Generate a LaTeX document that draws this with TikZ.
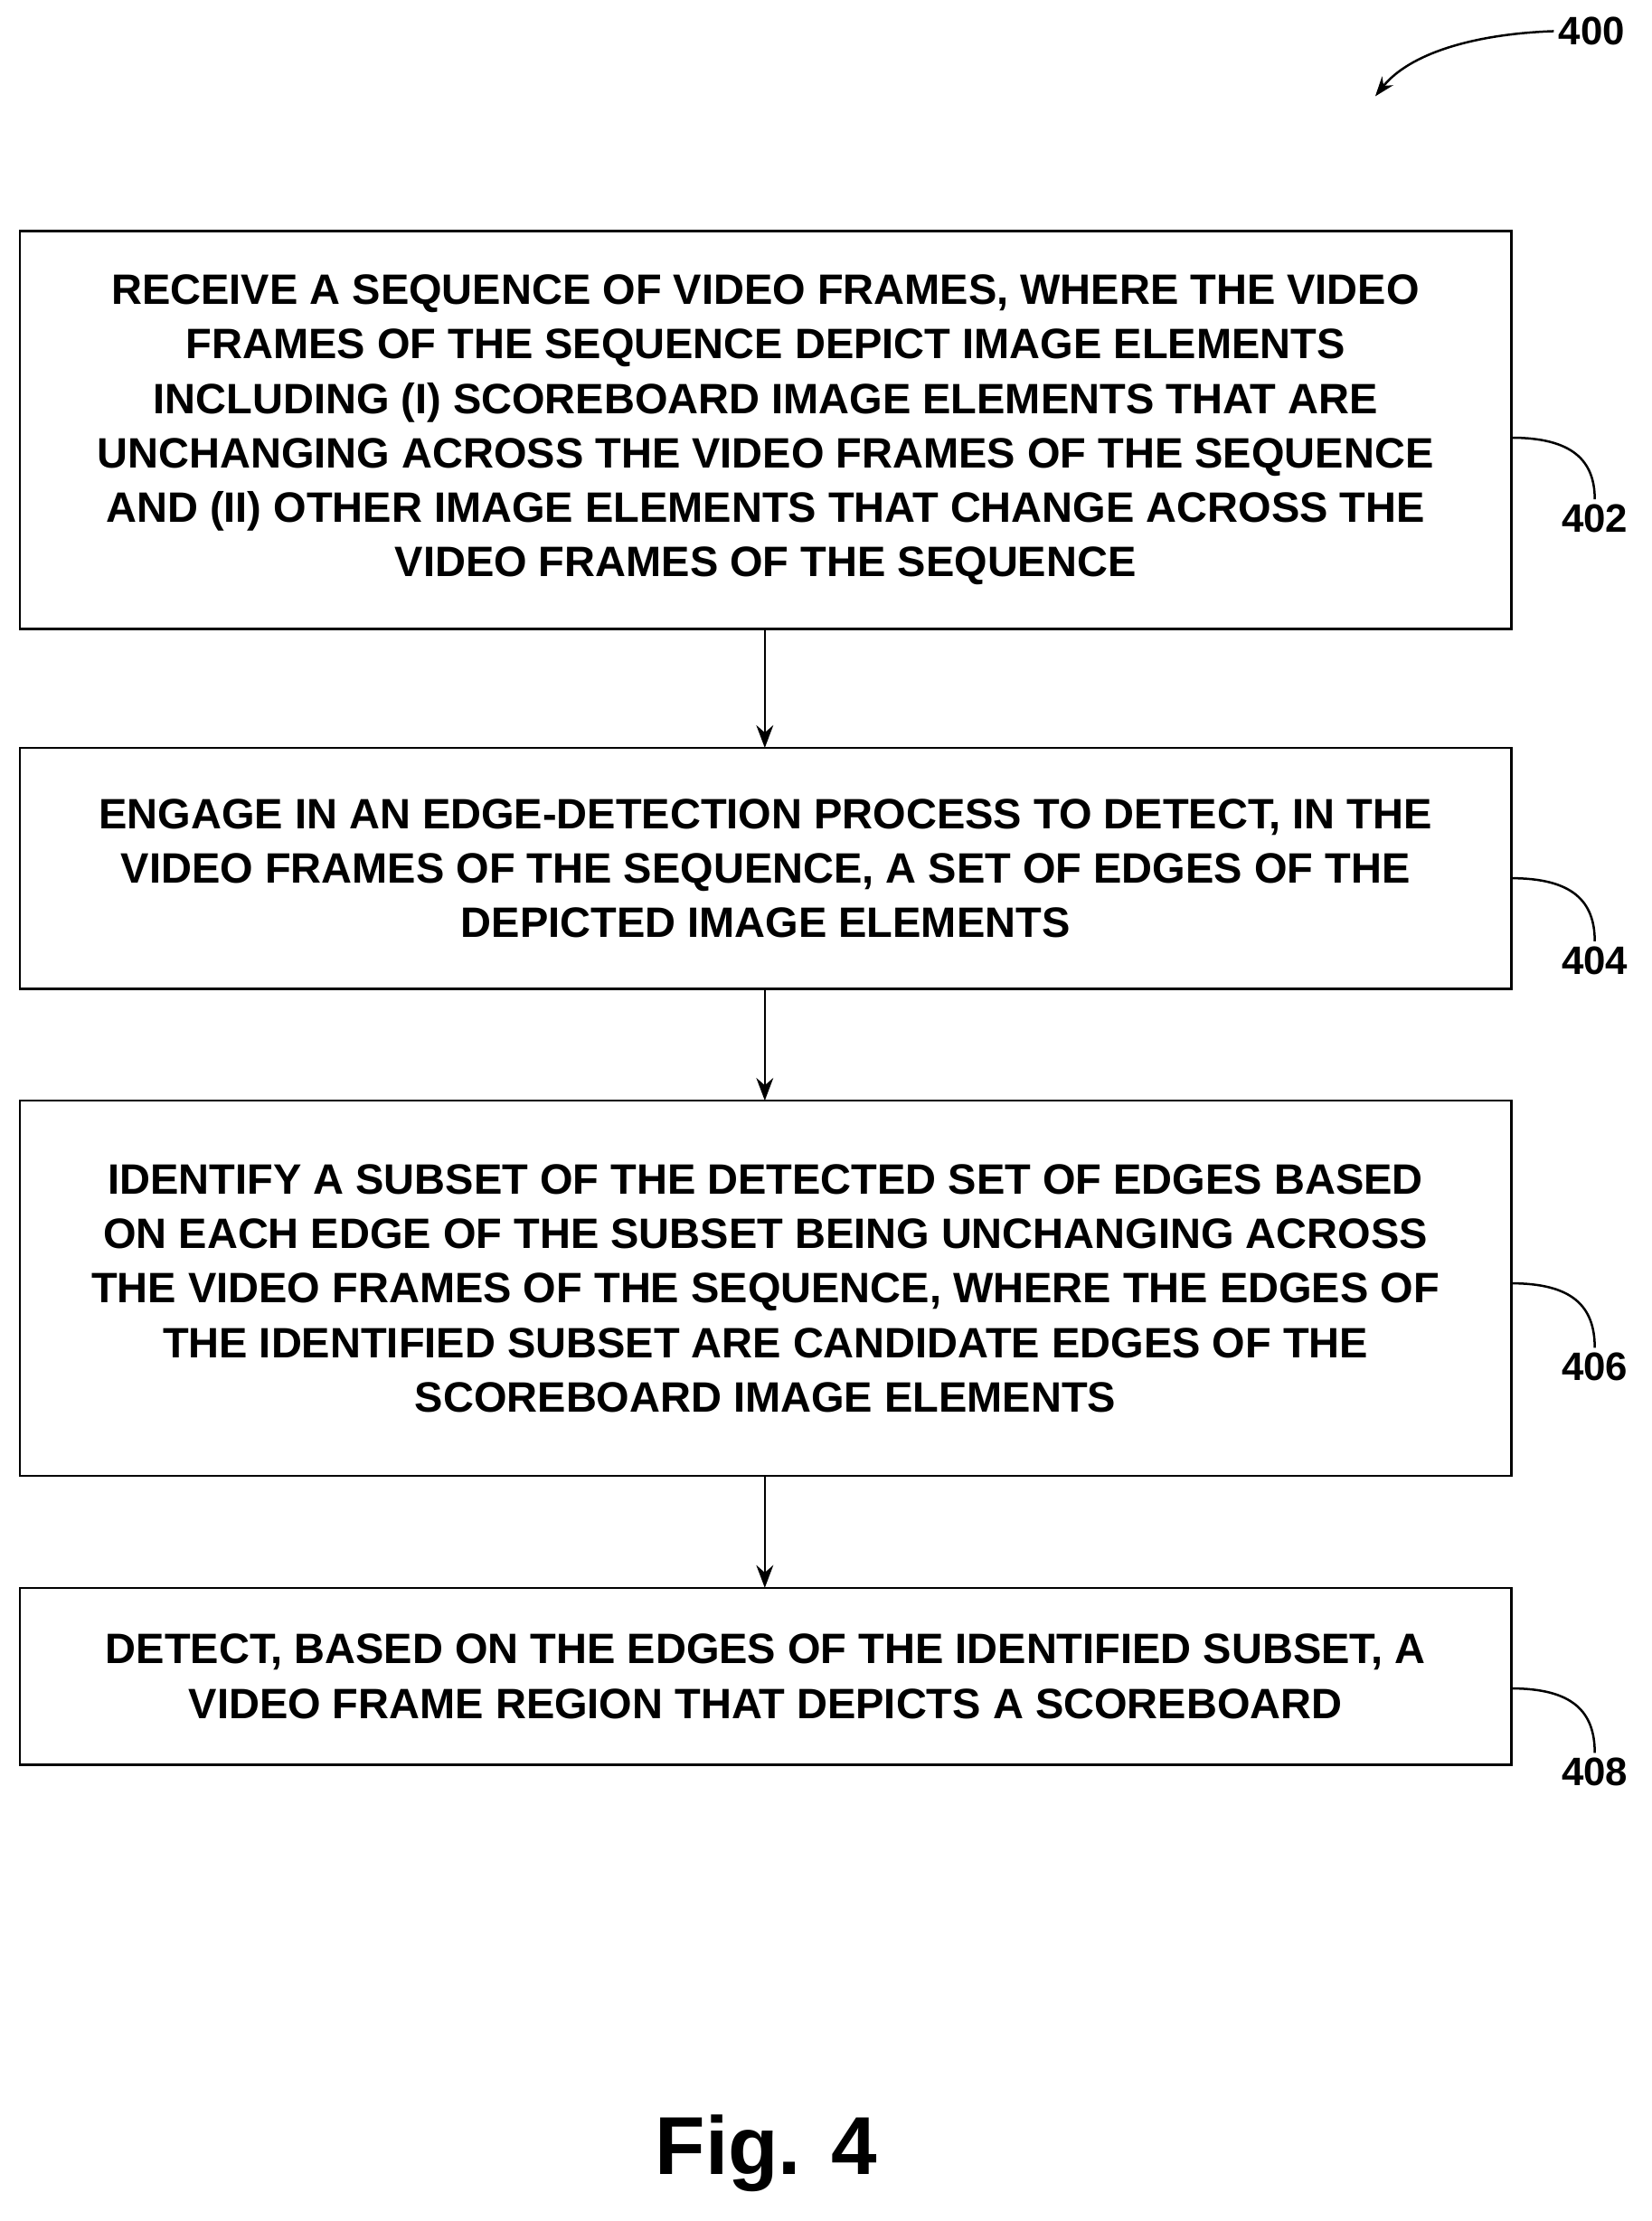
\documentclass[tikz,border=0pt]{standalone}
\usepackage{fontspec}
\setmainfont{Liberation Sans}
\usetikzlibrary{arrows.meta}
\begin{document}
\begin{tikzpicture}[x=1pt,y=-1pt,
  box/.style={draw,line width=1.6pt,align=center,font=\bfseries\fontsize{30}{38.5}\selectfont,inner sep=0pt},
  arr/.style={line width=1.6pt,-{Stealth[length=16pt,width=12pt]}},
  lbl/.style={font=\bfseries\fontsize{28}{30}\selectfont},
  lead/.style={line width=1.6pt}]
\useasboundingbox (0,0) rectangle (1166,1568);
\draw[box] (14,163) rectangle (1067,444);
\node[box,draw=none] (b1) at (540.5,303.5) {RECEIVE A SEQUENCE OF VIDEO FRAMES, WHERE THE VIDEO\\FRAMES OF THE SEQUENCE DEPICT IMAGE ELEMENTS\\INCLUDING (I) SCOREBOARD IMAGE ELEMENTS THAT ARE\\UNCHANGING ACROSS THE VIDEO FRAMES OF THE SEQUENCE\\AND (II) OTHER IMAGE ELEMENTS THAT CHANGE ACROSS THE\\VIDEO FRAMES OF THE SEQUENCE};
\draw[box] (14,528) rectangle (1067,698);
\node[box,draw=none] (b2) at (540.5,613) {ENGAGE IN AN EDGE-DETECTION PROCESS TO DETECT, IN THE\\VIDEO FRAMES OF THE SEQUENCE, A SET OF EDGES OF THE\\DEPICTED IMAGE ELEMENTS};
\draw[box] (14,777) rectangle (1067,1042);
\node[box,draw=none] (b3) at (540.5,909.5) {IDENTIFY A SUBSET OF THE DETECTED SET OF EDGES BASED\\ON EACH EDGE OF THE SUBSET BEING UNCHANGING ACROSS\\THE VIDEO FRAMES OF THE SEQUENCE, WHERE THE EDGES OF\\THE IDENTIFIED SUBSET ARE CANDIDATE EDGES OF THE\\SCOREBOARD IMAGE ELEMENTS};
\draw[box] (14,1121) rectangle (1067,1246);
\node[box,draw=none] (b4) at (540.5,1183.5) {DETECT, BASED ON THE EDGES OF THE IDENTIFIED SUBSET, A\\VIDEO FRAME REGION THAT DEPICTS A SCOREBOARD};
\coordinate (a1) at (540,444); \coordinate (a2) at (540,528);
\coordinate (c1) at (540,698); \coordinate (c2) at (540,777);
\coordinate (d1) at (540,1042); \coordinate (d2) at (540,1121);
\draw[arr] (a1) -- (a2);
\draw[arr] (c1) -- (c2);
\draw[arr] (d1) -- (d2);
\node[lbl] (l402) at (1126,366) {402};
\node[lbl] (l404) at (1126,678) {404};
\node[lbl] (l406) at (1126,965) {406};
\node[lbl] (l408) at (1126,1251) {408};
\node[lbl] (l400) at (1124,22) {400};
\draw[lead] (1067,309) .. controls (1110,309) and (1126,325) .. (l402.north);
\draw[lead] (1067,620) .. controls (1110,620) and (1126,636) .. (l404.north);
\draw[lead] (1067,906) .. controls (1110,906) and (1126,922) .. (l406.north);
\draw[lead] (1067,1192) .. controls (1110,1192) and (1126,1208) .. (l408.north);
\coordinate (t400) at (971,68);
\draw[lead,-{Stealth[length=14pt,width=10pt]}] (l400.west) .. controls (1040,24) and (995,38) .. (t400);
\node[font=\bfseries\fontsize{58}{60}\selectfont] (fig) at (541,1520) {Fig. 4};
\end{tikzpicture}
\end{document}
